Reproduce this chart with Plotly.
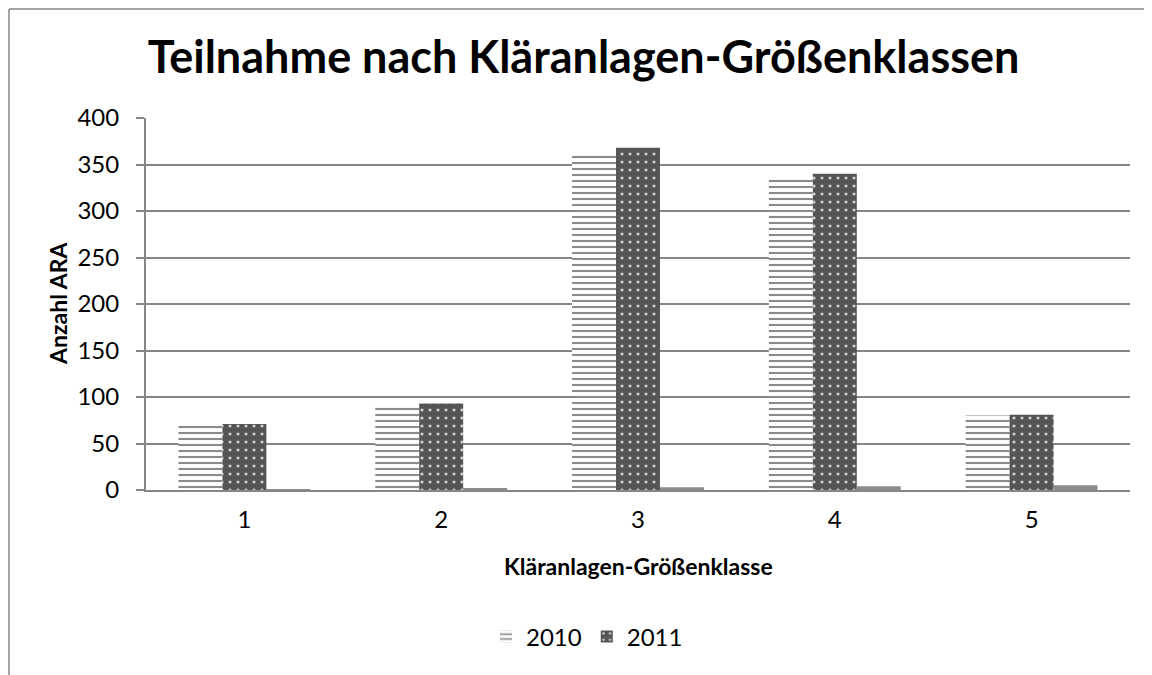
import plotly.graph_objects as go

categories = ["1", "2", "3", "4", "5"]
v2010 = [72, 91, 363, 336, 80]
v2011 = [71, 93, 368, 340, 81]
v_extra = [1, 2, 3, 4, 5]

FONT = "Lato"
OFF = 8  # page body margin
W, H = 1152, 675
ML, MT = 146 - OFF, 118 - OFF
MR = W - (1130 - OFF)
MB = H - (490 - OFF)
PW, PH = W - ML - MR, H - MT - MB


def px_x(p):
    return (p - OFF - ML) / PW


def px_y(p):
    return (H - MB - (p - OFF)) / PH


fig = go.Figure()
fig.add_trace(go.Bar(
    x=categories, y=v2010, name="2010",
    marker=dict(color="white", line=dict(width=0),
                pattern=dict(shape="-", fgcolor="#8a8a8a", bgcolor="white", size=6,
                             solidity=0.35, fillmode="replace")),
))
fig.add_trace(go.Bar(
    x=categories, y=v2011, name="2011",
    marker=dict(color="#555555", line=dict(width=0),
                pattern=dict(shape=".", fgcolor="#d0d0d0", bgcolor="#555555", size=8,
                             solidity=0.12, fillmode="replace")),
))
fig.add_trace(go.Bar(
    x=categories, y=v_extra, name="", showlegend=False,
    marker=dict(color="#8c8c8c", line=dict(width=0)),
))

fig.add_shape(type="line", xref="paper", yref="paper",
              x0=px_x(9), x1=px_x(1170), y0=px_y(9), y1=px_y(9),
              line=dict(color="#868686", width=1.5))
fig.add_shape(type="line", xref="paper", yref="paper",
              x0=px_x(9), x1=px_x(9), y0=px_y(9), y1=px_y(700),
              line=dict(color="#868686", width=1.5))

fig.add_annotation(text="<b>Kläranlagen-Größenklasse</b>", xref="paper", yref="paper",
                   x=0.5, y=px_y(566), xanchor="center", yanchor="middle",
                   showarrow=False, font=dict(size=23, family=FONT, color="black"))
fig.add_annotation(text="<b>Anzahl ARA</b>", xref="paper", yref="paper",
                   x=px_x(58), y=0.5, xanchor="center", yanchor="middle", textangle=-90,
                   showarrow=False, font=dict(size=23, family=FONT, color="black"))

fig.update_layout(
    width=W, height=H,
    margin=dict(l=ML, r=MR, t=MT, b=MB),
    paper_bgcolor="white", plot_bgcolor="white",
    barmode="group", bargap=0.33, bargroupgap=0,
    font=dict(family=FONT, color="black"),
    title=dict(text="<b>Teilnahme nach Kläranlagen-Größenklassen</b>",
               x=(583.5 - OFF) / W, xanchor="center",
               y=1 - (57 - OFF) / H, yanchor="middle",
               font=dict(size=45, family=FONT, color="black")),
    xaxis=dict(
        tickfont=dict(size=24), showline=True, linecolor="#868686", linewidth=2,
        ticks="", showgrid=False, ticklabelstandoff=7,
    ),
    yaxis=dict(
        range=[0, 400], dtick=50, tickfont=dict(size=24),
        showline=True, linecolor="#868686", linewidth=2,
        ticks="outside", ticklen=8, tickcolor="#868686", tickwidth=2,
        ticklabelstandoff=12,
        showgrid=True, gridcolor="#868686", gridwidth=1.5, zeroline=False,
    ),
    legend=dict(orientation="h", x=px_x(587), xanchor="center", y=px_y(637), yanchor="middle",
                font=dict(size=24), traceorder="normal"),
)

fig.write_html("out.html")
